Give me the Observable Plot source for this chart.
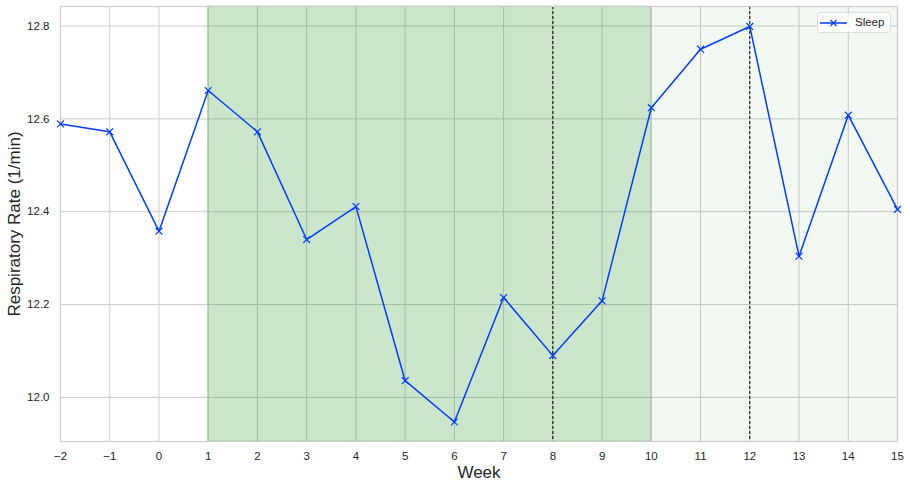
<!DOCTYPE html>
<html>
<head>
<meta charset="utf-8">
<script src="https://cdn.jsdelivr.net/npm/d3@7"></script>
<script src="https://cdn.jsdelivr.net/npm/@observablehq/plot@0.6"></script>
<style>
  html, body { margin: 0; padding: 0; background: #fff; }
  #wrap { position: relative; width: 910px; height: 487px; font-family: "Liberation Sans", Arial, sans-serif; }
  #legend { position: absolute; left: 817px; top: 12px; width: 74px; height: 21px; border: 1px solid #dddddd; border-radius: 3px; background: rgba(255,255,255,0.8); font-size: 11.5px; color: #262626; box-sizing: border-box; }
  #legend svg { position: absolute; left: 1px; top: 4px; }
  #legend span { position: absolute; left: 37px; top: 3px; }
</style>
</head>
<body>
<div id="wrap">
  <div id="chart"></div>
  <div id="legend"><svg width="30" height="12"><line x1="1" y1="6" x2="28" y2="6" stroke="#023eff" stroke-width="1.5"/><path d="M11.5,3 L17.5,9 M17.5,3 L11.5,9" stroke="#023eff" stroke-width="1.2"/></svg><span>Sleep</span></div>
</div>
<script>
const weeks = [-2, -1, 0, 1, 2, 3, 4, 5, 6, 7, 8, 9, 10, 11, 12, 13, 14, 15];
const sleepRate = [12.589, 12.572, 12.358, 12.661, 12.572, 12.340, 12.411, 12.036, 11.947, 12.215, 12.090, 12.208, 12.624, 12.750, 12.799, 12.304, 12.608, 12.405];
const xTicks = [-2, -1, 0, 1, 2, 3, 4, 5, 6, 7, 8, 9, 10, 11, 12, 13, 14, 15];
const yTicks = [12.0, 12.2, 12.4, 12.6, 12.8];
const spanStrong = [{x1: 1, x2: 10}];
const spanLight = [{x1: 10, x2: 15}];
const dashedWeeks = [8, 12];
const xDomain = [-2, 15];
const yDomain = [11.905, 12.842];

const data = weeks.map((w, i) => ({week: w, rate: sleepRate[i]}));

const chart = Plot.plot({
  width: 910,
  height: 487,
  marginLeft: 60,
  marginRight: 13,
  marginTop: 6,
  marginBottom: 46,
  style: { fontFamily: "'Liberation Sans', Arial, sans-serif", fontSize: "11.5px", color: "#262626", background: "#fff" },
  x: { domain: xDomain, ticks: xTicks, label: null },
  y: { domain: yDomain, ticks: yTicks, label: null, tickFormat: d => d.toFixed(1) },
  marks: [
    Plot.ruleX(xTicks, { stroke: "#cccccc", strokeWidth: 1 }),
    Plot.ruleY(yTicks, { stroke: "#cccccc", strokeWidth: 1 }),
    Plot.rect(spanStrong, { x1: "x1", x2: "x2", fill: "green", fillOpacity: 0.2, stroke: "green", strokeOpacity: 0.2, strokeWidth: 1 }),
    Plot.rect(spanLight, { x1: "x1", x2: "x2", fill: "green", fillOpacity: 0.05 }),
    Plot.ruleX(dashedWeeks, { stroke: "black", strokeWidth: 1, strokeDasharray: "3,2" }),
    Plot.frame({ stroke: "#cccccc", strokeWidth: 1.2 }),
    Plot.axisX({ ticks: xTicks, tickSize: 0, tickPadding: 10, fontSize: 11.5, label: null, tickFormat: d => d < 0 ? "\u2212" + Math.abs(d) : String(d) }),
    Plot.axisY({ ticks: yTicks, tickSize: 0, tickPadding: 11, fontSize: 11.5, label: null, tickFormat: d => d.toFixed(1) }),
    Plot.line(data, { x: "week", y: "rate", stroke: "#023eff", strokeWidth: 1.5 }),
    Plot.dot(data, { x: "week", y: "rate", symbol: "times", r: 3.2, stroke: "#023eff", strokeWidth: 1.2 }),
    Plot.text(["Week"], { frameAnchor: "bottom", lineAnchor: "middle", textAnchor: "middle", dy: 31, fontSize: 17, fill: "#262626" }),
    Plot.text(["Respiratory Rate (1/min)"], { frameAnchor: "left", lineAnchor: "middle", textAnchor: "middle", dx: -46, rotate: -90, fontSize: 17, fill: "#262626" })
  ]
});
document.getElementById("chart").appendChild(chart);
</script>
</body>
</html>
